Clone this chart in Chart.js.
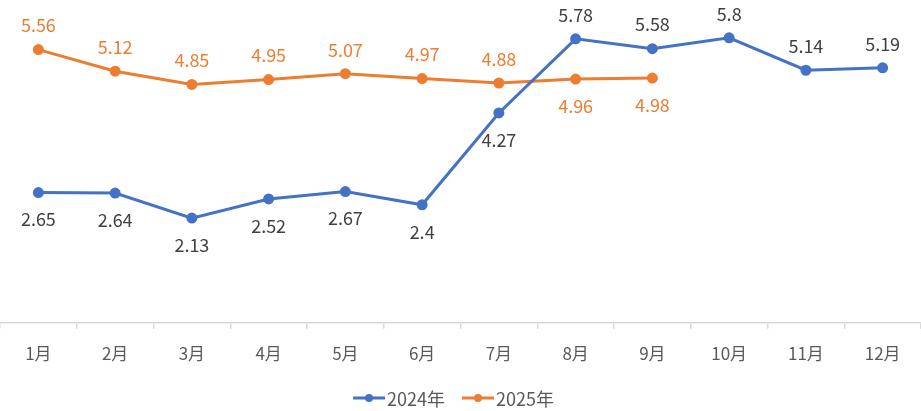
<!DOCTYPE html>
<html><head><meta charset="utf-8">
<script src="https://cdn.jsdelivr.net/npm/chart.js@4/dist/chart.umd.min.js"></script>
<style>html,body{margin:0;padding:0;background:#fff;}#wrap{width:921px;height:411px;}</style>
</head><body><div id="wrap"><canvas id="c"></canvas></div>
<script>
const categories = ['1月','2月','3月','4月','5月','6月','7月','8月','9月','10月','11月','12月'];
const series2024 = [2.65, 2.64, 2.13, 2.52, 2.67, 2.4, 4.27, 5.78, 5.58, 5.8, 5.14, 5.19];
const series2025 = [5.56, 5.12, 4.85, 4.95, 5.07, 4.97, 4.88, 4.96, 4.98];
const seriesNames = ['2024年', '2025年'];
const labelSide2024 = ['b','b','b','b','b','b','b','a','a','a','a','a'];
const labelSide2025 = ['a','a','a','a','a','a','a','b','b'];

const BLUE = '#4472C4', ORANGE = '#ED7D31';
const FONT = "'Noto Sans CJK SC', 'Noto Sans', sans-serif";

const labelPlugin = {
  id: 'valueLabels',
  afterDatasetsDraw(chart){
    const ctx = chart.ctx;
    ctx.save();
    ctx.font = '18px ' + FONT;
    ctx.textAlign = 'center';
    ctx.textBaseline = 'middle';
    chart.data.datasets.forEach((ds, i) => {
      const meta = chart.getDatasetMeta(i);
      const sides = ds.labelSides;
      meta.data.forEach((pt, j) => {
        const v = ds.data[j];
        if (v == null) return;
        ctx.fillStyle = ds.labelColor;
        const dy = sides[j] === 'a' ? -24 : 27;
        ctx.fillText(String(v), pt.x, pt.y + dy);
      });
    });
    ctx.restore();
  }
};

const legendPlugin = {
  id: 'customLegend',
  afterDraw(chart){
    const ctx = chart.ctx;
    ctx.save();
    ctx.font = '18px ' + FONT;
    ctx.textBaseline = 'middle';
    ctx.textAlign = 'left';
    const iconW = 32, gapIcon = 2, gapItem = 17;
    const items = chart.data.datasets.map(ds => ({ ds, w: iconW + gapIcon + ctx.measureText(ds.label).width }));
    const total = items.reduce((s, it) => s + it.w, 0) + gapItem * (items.length - 1);
    let x = chart.width / 2 - 7 - total / 2;
    const y = 398;
    items.forEach(it => {
      const c = it.ds.borderColor;
      ctx.strokeStyle = c; ctx.lineWidth = 3;
      ctx.beginPath(); ctx.moveTo(x, y); ctx.lineTo(x + iconW, y); ctx.stroke();
      ctx.fillStyle = c; ctx.beginPath(); ctx.arc(x + iconW / 2, y, 4, 0, Math.PI * 2); ctx.fill();
      ctx.fillStyle = '#595959';
      ctx.fillText(it.ds.label, x + iconW + gapIcon, y + 1);
      x += it.w + gapItem;
    });
    ctx.restore();
  }
};

new Chart(document.getElementById('c'), {
  type: 'line',
  data: {
    labels: categories,
    datasets: [
      { label: seriesNames[0], data: series2024, borderColor: BLUE, backgroundColor: BLUE,
        pointBackgroundColor: BLUE, pointBorderColor: BLUE, borderWidth: 3, pointRadius: 4,
        tension: 0, labelColor: '#404040', labelSides: labelSide2024 },
      { label: seriesNames[1], data: series2025, borderColor: ORANGE, backgroundColor: ORANGE,
        pointBackgroundColor: ORANGE, pointBorderColor: ORANGE, borderWidth: 3, pointRadius: 4,
        tension: 0, labelColor: ORANGE, labelSides: labelSide2025 }
    ]
  },
  options: {
    responsive: true,
    maintainAspectRatio: false,
    animation: false,
    layout: { autoPadding: false, padding: 0 },
    scales: {
      x: {
        offset: true,
        grid: { offset: true, drawOnChartArea: false, drawTicks: true, tickLength: 6, color: '#d9d9d9', lineWidth: 1.5 },
        border: { color: '#d9d9d9', width: 1.5 },
        ticks: { color: '#595959', font: { family: FONT, size: 17 }, padding: 15 },
        afterFit(scale){ scale.height = 88.3; }
      },
      y: { display: false, min: 0, max: 6.57 }
    },
    plugins: {
      legend: { display: false },
      tooltip: { enabled: false }
    }
  },
  plugins: [labelPlugin, legendPlugin]
});
</script></body></html>
